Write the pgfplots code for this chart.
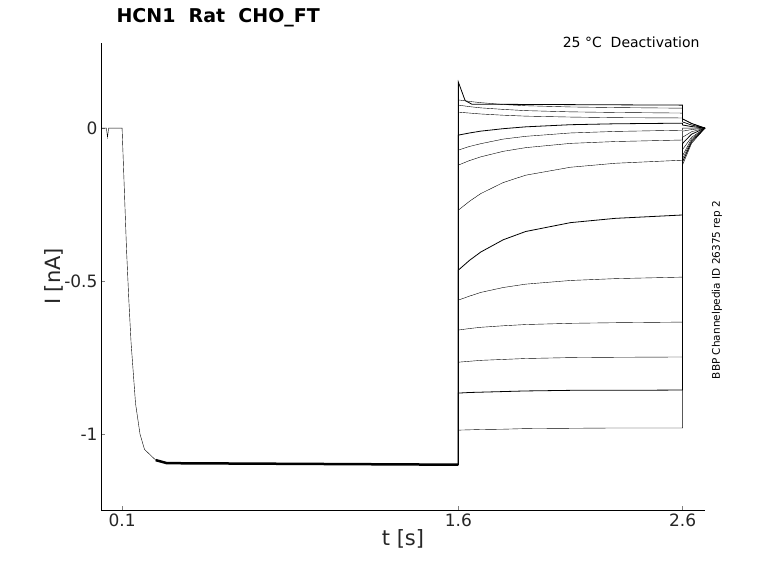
\documentclass[border=0pt]{standalone}
\usepackage{pgfplots}
\pgfplotsset{compat=1.18}
\usepackage{fontspec}
\setmainfont{DejaVu Sans}
\begin{document}
\begin{tikzpicture}[x=1pt,y=1pt]
\path (0,0) rectangle (778,583);
\begin{axis}[at={(101pt,73pt)},anchor=south west,scale only axis,
 width=604pt,height=467pt,xmin=0.006,xmax=2.70,ymin=-1.248,ymax=0.278,
 axis x line*=bottom,axis y line*=left,tick align=inside,
 xtick={0.1,1.6,2.6},xticklabels={0.1,1.6,2.6},
 ytick={-1,-0.5,0},yticklabels={-1,-0.5,0},
 tick label style={font=\fontsize{17}{17}\selectfont,color=black!85},
 xlabel={t [s]},ylabel={I [nA]},
 label style={font=\fontsize{21}{21}\selectfont,color=black!85},
 xlabel style={yshift=4pt},ylabel style={yshift=-6pt},
 clip=false,no markers,
 cycle list={{black,solid,line width=0.8pt,line join=round}}]
\addplot coordinates {(0.006,0) (0.03,0) (0.035,-0.03) (0.04,0) (0.1,0) (0.11,-0.2) (0.12,-0.4) (0.13,-0.56) (0.14,-0.7) (0.16,-0.9) (0.18,-1.0) (0.2,-1.05) (0.25,-1.085) (0.3,-1.095) (1.6,-1.1)};
\addplot[line width=2.5pt,black] coordinates {(0.25,-1.085) (0.3,-1.095) (1.6,-1.1)};
\addplot coordinates {(1.6,-1.1) (1.6,0.15) (1.61,0.13) (1.63,0.09) (1.66,0.078) (2.6,0.075) (2.6,0.03) (2.64,0.015) (2.7,0)};
\addplot coordinates {(1.6,-1.1) (1.6,0.092) (1.65,0.087) (1.7,0.083) (1.8,0.077) (1.9,0.073) (2.1,0.069) (2.3,0.067) (2.6,0.065) (2.6,0.03) (2.64,0.015) (2.7,0)};
\addplot coordinates {(1.6,-1.1) (1.6,0.075) (1.65,0.070) (1.7,0.066) (1.8,0.061) (1.9,0.057) (2.1,0.053) (2.3,0.051) (2.6,0.049) (2.6,0.02) (2.64,0.01) (2.7,0)};
\addplot coordinates {(1.6,-1.1) (1.6,0.052) (1.65,0.049) (1.7,0.046) (1.8,0.042) (1.9,0.039) (2.1,0.036) (2.3,0.034) (2.6,0.033) (2.6,0.02) (2.64,0.01) (2.7,0)};
\addplot coordinates {(1.6,-1.1) (1.6,-0.023) (1.65,-0.016) (1.7,-0.010) (1.8,-0.002) (1.9,0.004) (2.1,0.011) (2.3,0.014) (2.6,0.016) (2.6,0.01) (2.64,0.005) (2.7,0)};
\addplot coordinates {(1.6,-1.1) (1.6,-0.072) (1.65,-0.060) (1.7,-0.051) (1.8,-0.036) (1.9,-0.027) (2.1,-0.016) (2.3,-0.011) (2.6,-0.007) (2.6,0) (2.7,0)};
\addplot coordinates {(1.6,-1.1) (1.6,-0.121) (1.65,-0.106) (1.7,-0.094) (1.8,-0.076) (1.9,-0.064) (2.1,-0.050) (2.3,-0.044) (2.6,-0.039) (2.6,-0.01) (2.64,-0.005) (2.7,0)};
\addplot coordinates {(1.6,-1.1) (1.6,-0.268) (1.65,-0.239) (1.7,-0.214) (1.8,-0.178) (1.9,-0.154) (2.1,-0.128) (2.3,-0.115) (2.6,-0.105) (2.6,-0.03) (2.64,-0.012) (2.7,0)};
\addplot coordinates {(1.6,-1.1) (1.6,-0.464) (1.65,-0.432) (1.7,-0.405) (1.8,-0.365) (1.9,-0.338) (2.1,-0.309) (2.3,-0.295) (2.6,-0.284) (2.6,-0.05) (2.64,-0.02) (2.7,0)};
\addplot coordinates {(1.6,-1.1) (1.6,-0.562) (1.65,-0.549) (1.7,-0.537) (1.8,-0.521) (1.9,-0.510) (2.1,-0.498) (2.3,-0.492) (2.6,-0.487) (2.6,-0.07) (2.64,-0.03) (2.7,0)};
\addplot coordinates {(1.6,-1.1) (1.6,-0.660) (1.65,-0.655) (1.7,-0.651) (1.8,-0.646) (1.9,-0.642) (2.1,-0.638) (2.3,-0.636) (2.6,-0.634) (2.6,-0.09) (2.64,-0.035) (2.7,0)};
\addplot coordinates {(1.6,-1.1) (1.6,-0.765) (1.65,-0.762) (1.7,-0.759) (1.8,-0.756) (1.9,-0.753) (2.1,-0.750) (2.3,-0.749) (2.6,-0.748) (2.6,-0.10) (2.64,-0.04) (2.7,0)};
\addplot coordinates {(1.6,-1.1) (1.6,-0.866) (1.65,-0.864) (1.7,-0.863) (1.8,-0.861) (1.9,-0.859) (2.1,-0.857) (2.3,-0.857) (2.6,-0.856) (2.6,-0.11) (2.64,-0.045) (2.7,0)};
\addplot coordinates {(1.6,-1.1) (1.6,-0.987) (1.65,-0.986) (1.7,-0.985) (1.8,-0.984) (1.9,-0.982) (2.1,-0.981) (2.3,-0.980) (2.6,-0.980) (2.6,-0.12) (2.64,-0.05) (2.7,0)};
\end{axis}
\node[anchor=west,font=\bfseries\fontsize{19}{19}\selectfont] at (113,565) {HCN1\ \ Rat\ \ CHO\_FT};
\node[anchor=east,font=\fontsize{14}{14}\selectfont] at (703,541) {25 °C\ \ Deactivation};
\node[rotate=90,font=\fontsize{10.5}{10.5}\selectfont] at (717,293) {BBP Channelpedia ID 26375 rep 2};
\end{tikzpicture}
\end{document}
